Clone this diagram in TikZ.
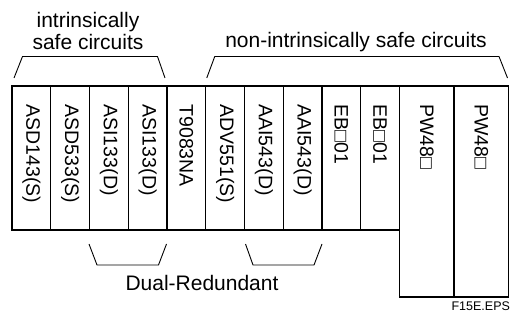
\documentclass[tikz,border=0pt]{standalone}
\usepackage{fontspec}
\setmainfont{Liberation Sans}
\usetikzlibrary{positioning}

\begin{document}
\begin{tikzpicture}[x=1pt, y=-1pt, line width=1.1pt,
    module/.style={draw, rectangle, inner sep=0pt, outer sep=0pt, anchor=north west,
      minimum width=38.75pt, minimum height=144pt},
    psu/.style={module, minimum width=54.5pt, minimum height=211pt},
    modlabel/.style={rotate=-90, anchor=west, inner sep=0pt, font=\fontsize{19.5}{20}\selectfont},
    bracket/.style={line width=0.9pt},
    caption/.style={font=\fontsize{21}{22.7}\selectfont, inner sep=0pt, align=center}]

        \useasboundingbox (0,0) rectangle (513,320);

        % I/O modules
        \foreach \name/\txt [count=\i] in {asdA/ASD143(S), asdB/ASD533(S), asiA/ASI133(D), asiB/ASI133(D), tb/T9083NA, adv/ADV551(S), aaiA/AAI543(D), aaiB/AAI543(D), ebA/EB□01, ebB/EB□01}
        {
            \node[module] (\name) at ({12+(\i-1)*38.75}, 86) {};
            \node[modlabel] (\name-lbl) at ([yshift=-18pt]\name.north) {\txt};
        }

        % Power supply modules
        \node[psu] (pwA) at (ebB.north east) {};
        \node[psu] (pwB) at (pwA.north east) {};
        \node[modlabel] (pwA-lbl) at ([yshift=-18pt]pwA.north) {PW48□};
        \node[modlabel] (pwB-lbl) at ([yshift=-18pt]pwB.north) {PW48□};

        % Upper brackets
        \draw[bracket] ([xshift=2pt,yshift=8pt]asdA.north west) -- ([xshift=10.5pt,yshift=29.5pt]asdA.north west)
            -- ([xshift=-9.5pt,yshift=29.5pt]asiB.north east) -- ([xshift=-2pt,yshift=8pt]asiB.north east);
        \draw[bracket] ([xshift=1pt,yshift=8pt]adv.north west) -- ([xshift=9pt,yshift=29.5pt]adv.north west)
            -- ([xshift=-9.5pt,yshift=29.5pt]pwB.north east) -- ([xshift=-1pt,yshift=8pt]pwB.north east);

        % Lower brackets
        \draw[bracket] ([xshift=-0.5pt,yshift=-14pt]asiA.south west) -- ([xshift=7.5pt,yshift=-35pt]asiA.south west)
            -- ([xshift=-8.5pt,yshift=-35pt]asiB.south east) -- ([xshift=-0.5pt,yshift=-14pt]asiB.south east);
        \draw[bracket] ([xshift=1pt,yshift=-14pt]aaiA.south west) -- ([xshift=8.5pt,yshift=-35pt]aaiA.south west)
            -- ([xshift=-8pt,yshift=-35pt]aaiB.south east) -- ([yshift=-14pt]aaiB.south east);

        % Texts
        \node[caption, anchor=base] (isLbl) at (88,50) {intrinsically\\safe circuits};
        \node[caption, anchor=base] (nisLbl) at (356,47.5) {non-intrinsically safe circuits};
        \node[caption, anchor=base] (drLbl) at (202,290) {Dual-Redundant};
        \node[font=\fontsize{12.5}{14}\selectfont, anchor=base east, inner sep=0pt] (figId) at (510.5,310) {F15E.EPS};

\end{tikzpicture}
\end{document}
